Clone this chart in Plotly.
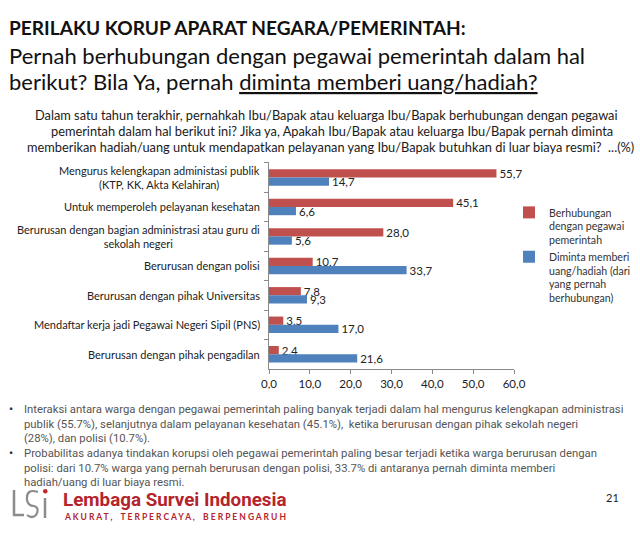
import plotly.graph_objects as go

categories = [
    "Mengurus kelengkapan administasi publik<br>(KTP, KK, Akta Kelahiran)",
    "Untuk memperoleh pelayanan kesehatan",
    "Berurusan dengan bagian administrasi atau guru di<br>sekolah negeri",
    "Berurusan dengan polisi",
    "Berurusan dengan pihak Universitas",
    "Mendaftar kerja jadi Pegawai Negeri Sipil (PNS)",
    "Berurusan dengan pihak pengadilan",
]
berhubungan = [55.7, 45.1, 28.0, 10.7, 7.8, 3.5, 2.4]
diminta = [14.7, 6.6, 5.6, 33.7, 9.3, 17.0, 21.6]
series_names = [
    "Berhubungan<br>dengan pegawai<br>pemerintah",
    "Diminta memberi<br>uang/hadiah (dari<br>yang pernah<br>berhubungan)",
]
x_ticks = [0, 10, 20, 30, 40, 50, 60]

RED = "#C0504D"
BLUE = "#4F81BD"
W, H = 640, 547
FONT = "Lato, Open Sans, sans-serif"

def px(x):
    return x / W

def py(y):
    return 1 - y / H

fig = go.Figure()
for name, vals, col, grp in [(series_names[0], berhubungan, RED, "a"),
                             (series_names[1], diminta, BLUE, "b")]:
    fig.add_trace(go.Bar(
        y=categories, x=vals, orientation="h", name=name,
        marker=dict(color=col, line=dict(width=0)),
        texttemplate="%{x:.1f}", textposition="outside",
        textfont=dict(size=11.5, color="#222", family=FONT),
        constraintext="none", cliponaxis=False, legendgroup=grp,
    ))

# category labels (centered multi-line, right-anchored)
for c in categories:
    fig.add_annotation(x=px(262), xref="paper", y=c, yref="y",
                       text=c, showarrow=False, xanchor="right", align="center",
                       font=dict(size=11, color="#222", family=FONT))

fig.update_layout(
    width=W, height=H, margin=dict(l=0, r=0, t=0, b=0, autoexpand=False),
    paper_bgcolor="white", plot_bgcolor="white",
    separators=",.",
    barmode="group", bargap=0.44, bargroupgap=0,
    showlegend=True,
    legend=dict(x=px(509), y=py(199), xanchor="left", yanchor="top",
                traceorder="normal", valign="top", tracegroupgap=33,
                bgcolor="rgba(0,0,0,0)", itemwidth=30,
                font=dict(size=10.6, color="#333", family=FONT)),
    xaxis=dict(domain=[px(269), px(514)], range=[0, 60], tickvals=x_ticks,
               tickformat=".1f", showgrid=False, zeroline=False,
               showline=True, linecolor="#8a8a8a", linewidth=1,
               ticks="outside", ticklen=4, tickcolor="#8a8a8a",
               tickfont=dict(size=11.5, color="#222", family=FONT)),
    yaxis=dict(domain=[py(369), py(162)], autorange="reversed",
               showticklabels=False, showgrid=False, zeroline=False,
               showline=True, linecolor="#8a8a8a", linewidth=1,
               ticks="outside", ticklen=4, tickcolor="#8a8a8a",
               tickson="boundaries"),
    font=dict(family=FONT),
)

# Titles
fig.add_annotation(x=px(7), y=py(27), xref="paper", yref="paper", xanchor="left", yanchor="middle",
                   text="<b>PERILAKU KORUP APARAT NEGARA/PEMERINTAH:</b>", showarrow=False,
                   font=dict(size=19.1, color="#111", family=FONT))
fig.add_annotation(x=px(7), y=py(55), xref="paper", yref="paper", xanchor="left", yanchor="middle",
                   text="Pernah berhubungan dengan pegawai pemerintah dalam hal", showarrow=False,
                   font=dict(size=22, color="#111", family=FONT))
fig.add_annotation(x=px(7), y=py(81), xref="paper", yref="paper", xanchor="left", yanchor="middle",
                   text="berikut? Bila Ya, pernah <span style='text-decoration:underline'>diminta memberi uang/hadiah?</span>",
                   showarrow=False, font=dict(size=22, color="#111", family=FONT))

question_lines = [
    "Dalam satu tahun terakhir, pernahkah Ibu/Bapak atau keluarga Ibu/Bapak berhubungan dengan pegawai",
    "pemerintah dalam hal berikut ini? Jika ya, Apakah Ibu/Bapak atau keluarga Ibu/Bapak pernah diminta",
    "memberikan hadiah/uang untuk mendapatkan pelayanan yang Ibu/Bapak butuhkan di luar biaya resmi?  ...(%)",
]
for line, lx, cy in zip(question_lines, [33, 49, 25], [115, 131, 147]):
    fig.add_annotation(x=px(lx), y=py(cy), xref="paper", yref="paper", xanchor="left", yanchor="middle",
                       text=line, showarrow=False,
                       font=dict(size=12.8, color="#1a1a1a", family=FONT))

# bullets
bul_font = dict(size=11.3, color="#555", family="Roboto, sans-serif")
fig.add_annotation(x=px(7), y=py(401), xref="paper", yref="paper", xanchor="left", yanchor="top",
                   text="<b>•</b><br><br><br><b>•</b>", showarrow=False, align="left",
                   font=dict(size=11.3, color="#333", family="Roboto, sans-serif"))
fig.add_annotation(x=px(22), y=py(401), xref="paper", yref="paper", xanchor="left", yanchor="top",
                   text=("Interaksi antara warga dengan pegawai pemerintah paling banyak terjadi dalam hal mengurus kelengkapan administrasi<br>"
                         "publik (55.7%), selanjutnya dalam pelayanan kesehatan (45.1%),  ketika berurusan dengan pihak sekolah negeri<br>"
                         "(28%), dan polisi (10.7%).<br>"
                         "Probabilitas adanya tindakan korupsi oleh pegawai pemerintah paling besar terjadi ketika warga berurusan dengan<br>"
                         "polisi: dari 10.7% warga yang pernah berurusan dengan polisi, 33.7% di antaranya pernah diminta memberi<br>"
                         "hadiah/uang di luar biaya resmi."),
                   showarrow=False, align="left", font=bul_font)

# logo
logo_col = "#8c8c8c"
fig.add_shape(type="path", xref="paper", yref="paper",
              path=f"M {px(14)} {py(490)} L {px(14)} {py(515)} L {px(24)} {py(515)}",
              line=dict(color=logo_col, width=2.5))
fig.add_shape(type="path", xref="paper", yref="paper",
              path=(f"M {px(38)} {py(492)} Q {px(26)} {py(488)} {px(27)} {py(500)} "
                    f"Q {px(28)} {py(506)} {px(34)} {py(506)} Q {px(40)} {py(508)} {px(36)} {py(515)} "
                    f"Q {px(32)} {py(519)} {px(27)} {py(515)}"),
              line=dict(color=logo_col, width=2.2))
fig.add_shape(type="line", xref="paper", yref="paper", x0=px(45), x1=px(45), y0=py(498), y1=py(518),
              line=dict(color=logo_col, width=2.5))
fig.add_shape(type="circle", xref="paper", yref="paper", x0=px(43), x1=px(47.5), y0=py(489), y1=py(493.5),
              fillcolor="#C0282D", line=dict(width=0))
fig.add_annotation(x=px(61), y=py(500), xref="paper", yref="paper", xanchor="left", yanchor="middle",
                   text="<b>Lembaga Survei Indonesia</b>", showarrow=False,
                   font=dict(size=18.8, color="#B5232B", family="Roboto, sans-serif"))
fig.add_annotation(x=px(62), y=py(517), xref="paper", yref="paper", xanchor="left", yanchor="middle",
                   text="<b>A K U R A T ,    T E R P E R C A Y A ,    B E R P E N G A R U H</b>", showarrow=False,
                   font=dict(size=8.5, color="#B5232B", family=FONT))
fig.add_annotation(x=px(612), y=py(497), xref="paper", yref="paper", xanchor="center", yanchor="middle",
                   text="21", showarrow=False, font=dict(size=11, color="#222", family=FONT))

fig.write_html("out.html")
